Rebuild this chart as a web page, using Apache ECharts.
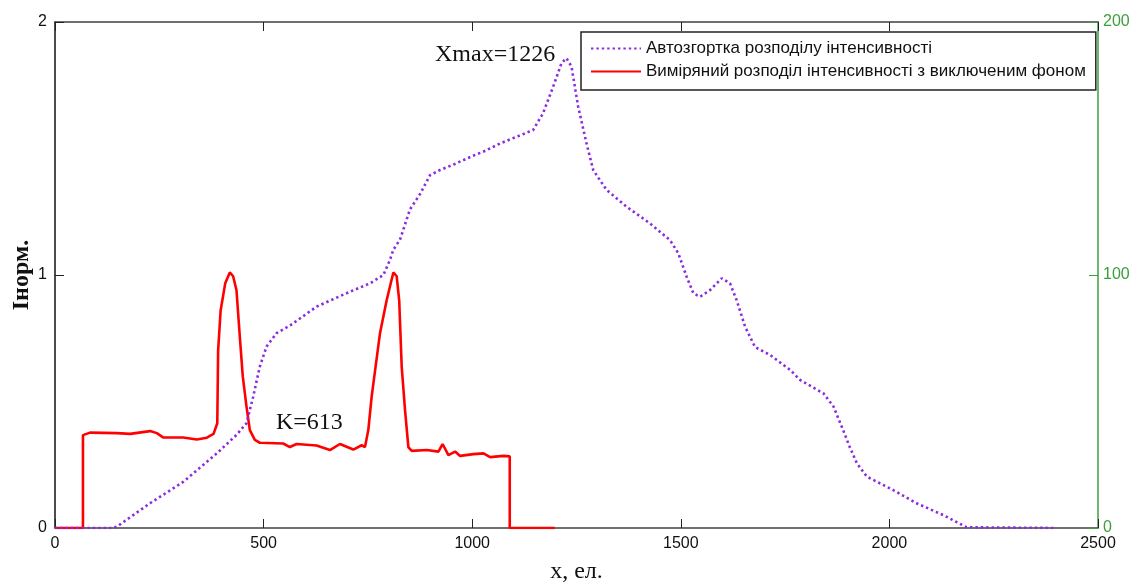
<!DOCTYPE html>
<html>
<head>
    <meta charset="utf-8">
    <title>Автозгортка</title>
    <script src="https://cdn.jsdelivr.net/npm/echarts@6/dist/echarts.min.js"></script>
</head>
<body style="margin:0">
<div id="main" style="width:1133px;height:582px;"></div>
<script type="text/javascript">
// autoconvolution of the intensity distribution (normalized)
var autoX = [0, 139, 148, 228, 308, 388, 435, 459, 475, 491, 507, 531, 563, 627, 707, 755, 787, 803, 811, 827,
    839, 851, 875, 899, 923, 960, 1000, 1030, 1067, 1146, 1170, 1194, 1214, 1226, 1238, 1254, 1274, 1290,
    1322, 1370, 1426, 1474, 1494, 1514, 1530, 1546, 1570, 1598, 1618, 1634, 1654, 1678, 1714, 1762, 1786,
    1842, 1866, 1889, 1905, 1922, 1946, 2009, 2065, 2129, 2185, 2397];
var autoY = [0, 0, 0.005, 0.098, 0.183, 0.295, 0.368, 0.414, 0.519, 0.638, 0.717, 0.77, 0.80, 0.875, 0.934, 0.967, 1.0, 1.06, 1.10, 1.14,
    1.20, 1.26, 1.32, 1.395, 1.415, 1.44, 1.47, 1.49, 1.52, 1.573, 1.64, 1.744, 1.837, 1.857, 1.824, 1.665, 1.52, 1.415,
    1.336, 1.27, 1.204, 1.138, 1.086, 0.993, 0.928, 0.914, 0.94, 0.987, 0.967, 0.90, 0.796, 0.715, 0.684, 0.625, 0.585,
    0.532, 0.48, 0.387, 0.32, 0.256, 0.203, 0.15, 0.098, 0.051, 0.003, 0];

// measured intensity distribution without background (normalized)
var measX = [0, 67, 67, 84, 148, 180, 228, 244, 259, 307, 340, 364, 380, 389, 391, 397, 408, 419, 427, 435,
    443, 450, 459, 467, 479, 491, 547, 563, 579, 627, 659, 683, 715, 735, 743, 751, 759, 779, 795, 811,
    819, 825, 831, 839, 847, 855, 891, 919, 929, 943, 959, 971, 1003, 1027, 1043, 1075, 1090, 1090, 1198];
var measY = [0, 0, 0.367, 0.377, 0.375, 0.372, 0.383, 0.375, 0.358, 0.358, 0.35, 0.357, 0.372, 0.414, 0.70, 0.86, 0.967, 1.01, 0.995, 0.94,
    0.756, 0.60, 0.48, 0.387, 0.348, 0.337, 0.334, 0.32, 0.332, 0.326, 0.308, 0.332, 0.31, 0.327, 0.32, 0.387, 0.519, 0.77, 0.90, 1.01,
    0.995, 0.90, 0.638, 0.466, 0.32, 0.305, 0.308, 0.302, 0.332, 0.288, 0.302, 0.285, 0.292, 0.295, 0.28, 0.285, 0.283, 0, 0];

var xTicks = [0, 500, 1000, 1500, 2000, 2500];
var leftTicks = [0, 1, 2];
var rightTicks = [0, 100, 200];

var seriesNames = ['Автозгортка розподілу інтенсивності', 'Виміряний розподіл інтенсивності з виключеним фоном'];

function pairs(xs, ys) {
    var out = [];
    for (var i = 0; i < xs.length; i++) {
        out.push([xs[i], ys[i]]);
    }
    return out;
}

function plain(v) { return String(v); }

var myChart = echarts.init(document.getElementById('main'));

var option = {
    backgroundColor: '#fff',
    animation: false,
    grid: { left: 55, right: 35, top: 22, bottom: 54, containLabel: false, outerBoundsMode: 'none' },
    legend: {
        left: 581,
        top: 32,
        orient: 'vertical',
        data: seriesNames,
        itemWidth: 50,
        itemHeight: 14,
        itemGap: 6,
        padding: [8, 10, 10, 9],
        borderColor: '#222',
        borderWidth: 1.5,
        backgroundColor: '#fff',
        itemStyle: { opacity: 0, borderWidth: 0 },
        textStyle: { fontFamily: 'Liberation Sans', fontSize: 17, color: '#111' }
    },
    xAxis: [{
        type: 'value',
        min: xTicks[0],
        max: xTicks[xTicks.length - 1],
        interval: 500,
        name: 'x, ел.',
        nameLocation: 'middle',
        nameGap: 32,
        nameTextStyle: { fontFamily: 'Liberation Serif', fontSize: 24, color: '#111' },
        axisLine: { onZero: false, lineStyle: { color: '#404040', width: 1.5 } },
        axisTick: { inside: true, length: 9, lineStyle: { color: '#222' } },
        axisLabel: { fontFamily: 'Liberation Sans', fontSize: 16, color: '#111', margin: 8, formatter: plain },
        splitLine: { show: false }
    }, {
        type: 'value',
        position: 'top',
        min: xTicks[0],
        max: xTicks[xTicks.length - 1],
        interval: 500,
        axisLine: { show: true, onZero: false, lineStyle: { color: '#404040', width: 1.5 } },
        axisTick: { inside: true, length: 9, lineStyle: { color: '#222' } },
        axisLabel: { show: false },
        splitLine: { show: false }
    }],
    yAxis: [{
        type: 'value',
        min: leftTicks[0],
        max: leftTicks[leftTicks.length - 1],
        interval: 1,
        name: 'Iнорм.',
        nameLocation: 'middle',
        nameGap: 21,
        nameMoveOverlap: false,
        nameRotate: 90,
        nameTextStyle: { fontFamily: 'Liberation Serif', fontSize: 24, fontWeight: 'bold', color: '#111' },
        axisLine: { show: true, onZero: false, lineStyle: { color: '#111', width: 1.5 } },
        axisTick: { show: true, inside: true, length: 9, lineStyle: { color: '#222' } },
        axisLabel: { fontFamily: 'Liberation Sans', fontSize: 16, color: '#111', margin: 8 },
        splitLine: { show: false }
    }, {
        type: 'value',
        position: 'right',
        min: rightTicks[0],
        max: rightTicks[rightTicks.length - 1],
        interval: 100,
        axisLine: { show: true, onZero: false, lineStyle: { color: '#3c9e3c', width: 1.5 } },
        axisTick: { show: true, inside: true, length: 9, lineStyle: { color: '#3c9e3c' } },
        axisLabel: { fontFamily: 'Liberation Sans', fontSize: 16, color: '#3c9e3c', margin: 5 },
        splitLine: { show: false }
    }],
    series: [{
        name: seriesNames[0],
        type: 'line',
        symbol: 'none',
        z: 3,
        data: pairs(autoX, autoY),
        lineStyle: { color: '#8a2be2', width: 2.6, type: [2.4, 3] },
        itemStyle: { color: '#8a2be2' }
    }, {
        name: seriesNames[1],
        type: 'line',
        symbol: 'none',
        z: 2,
        data: pairs(measX, measY),
        lineStyle: { color: '#ff0000', width: 2.6 },
        itemStyle: { color: '#ff0000' }
    }],
    graphic: [{
        type: 'text',
        left: 435,
        top: 43,
        style: { text: 'Xmax=1226', font: '24px "Liberation Serif"', fill: '#111' }
    }, {
        type: 'text',
        left: 276,
        top: 411,
        style: { text: 'K=613', font: '24px "Liberation Serif"', fill: '#111' }
    }]
};

myChart.setOption(option);
</script>
</body>
</html>
